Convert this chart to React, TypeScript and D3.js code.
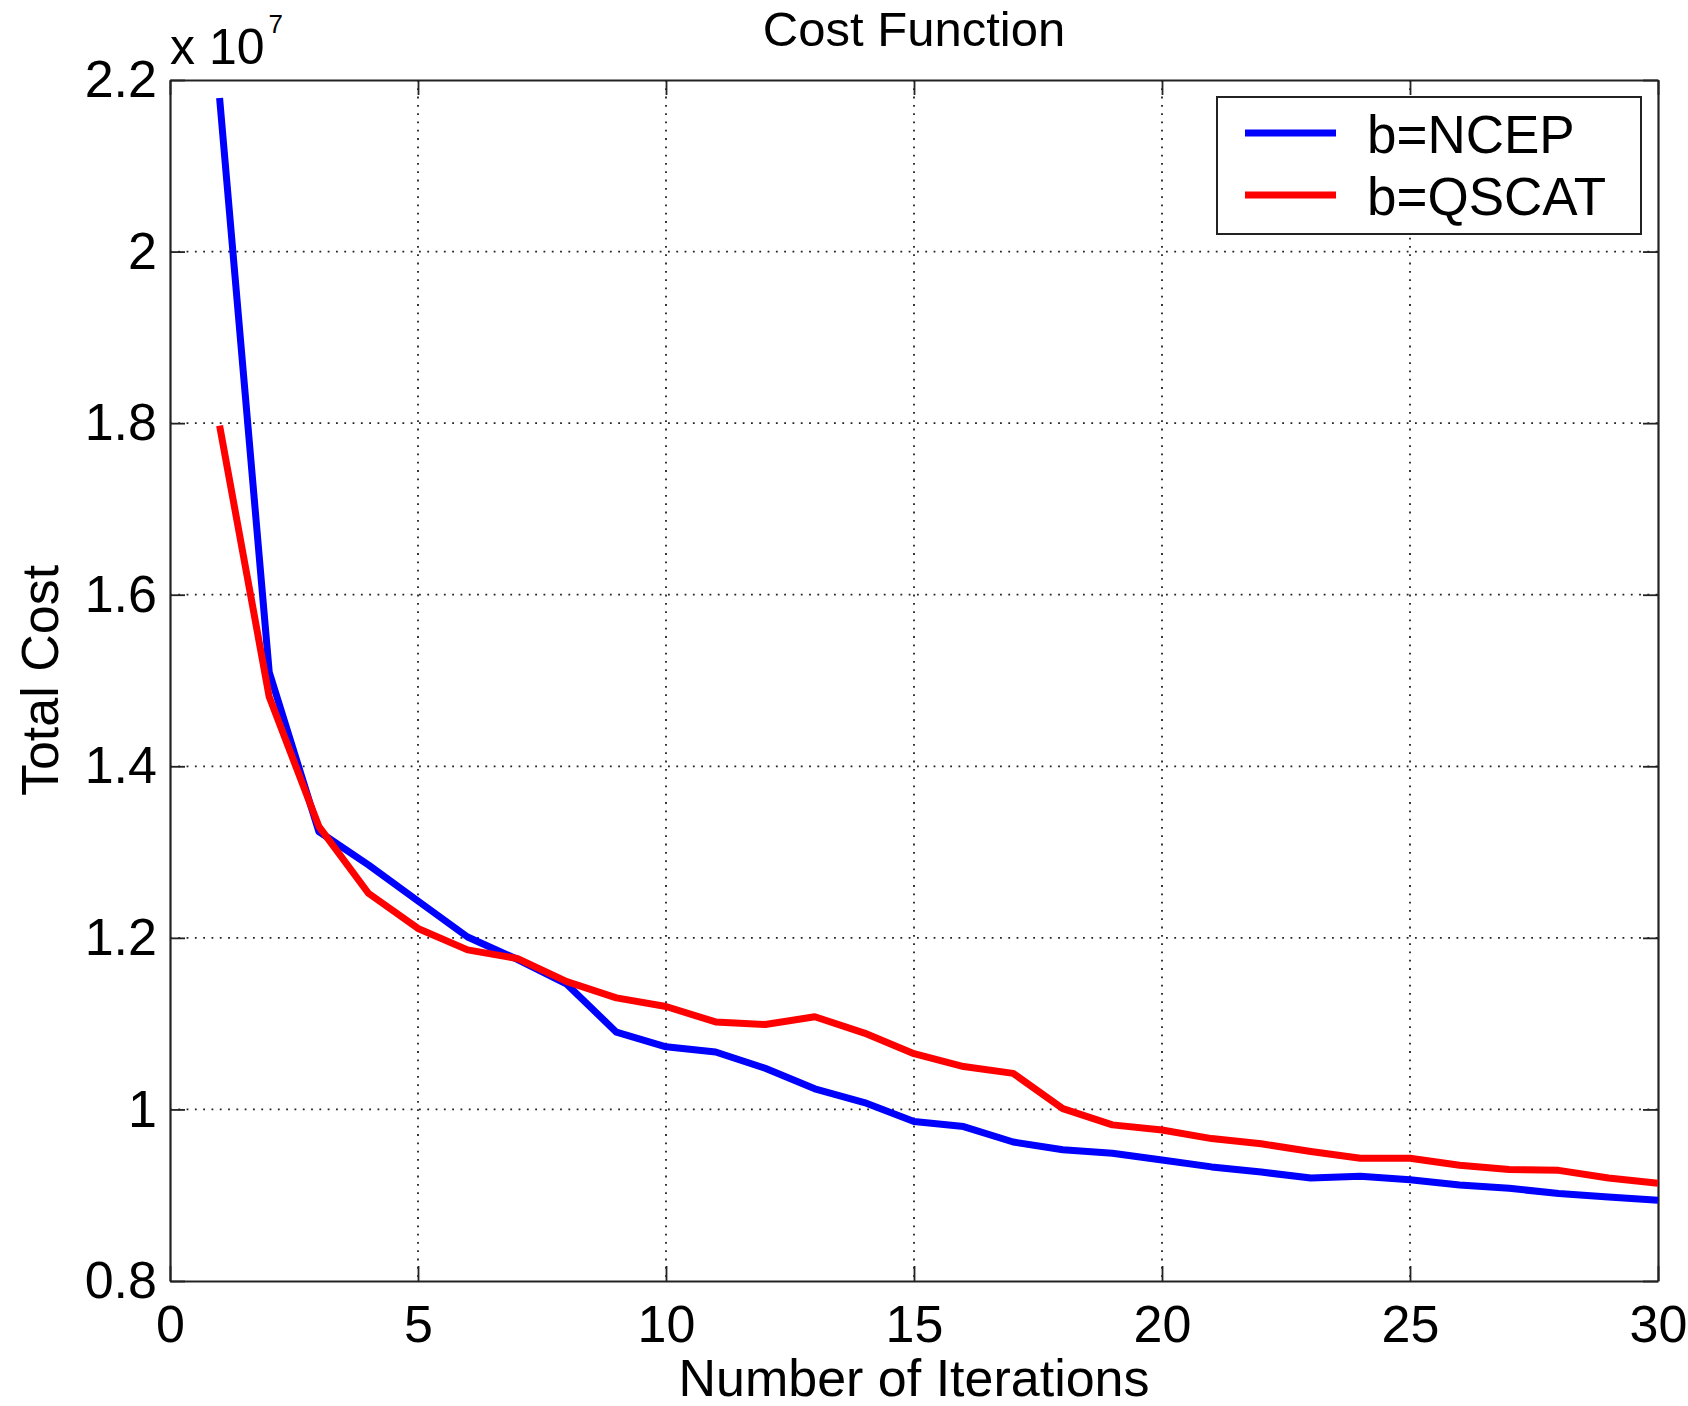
import * as d3 from "d3";
import React, { useEffect, useRef } from "react";

// iterations on the x axis
const iterations = [
  1, 2, 3, 4, 5, 6, 7, 8, 9, 10, 11, 12, 13, 14, 15, 16, 17, 18, 19, 20, 21,
  22, 23, 24, 25, 26, 27, 28, 29, 30,
];
// total cost, in units of 1e7
const ncep = [
  2.179, 1.51, 1.324, 1.285, 1.243, 1.201, 1.175, 1.146, 1.09, 1.073, 1.067,
  1.048, 1.024, 1.008, 0.986, 0.98, 0.962, 0.953, 0.949, 0.941, 0.933, 0.927,
  0.92, 0.922, 0.918, 0.912, 0.908, 0.902, 0.898, 0.894,
];
const qscat = [
  1.797, 1.481, 1.33, 1.252, 1.211, 1.186, 1.176, 1.149, 1.13, 1.12, 1.102,
  1.099, 1.108, 1.089, 1.065, 1.05, 1.042, 1.001, 0.982, 0.976, 0.966, 0.96,
  0.951, 0.943, 0.943, 0.935, 0.93, 0.929, 0.92, 0.914,
];
const seriesNames = ["b=NCEP", "b=QSCAT"];
const seriesColors = ["#0000ff", "#ff0000"];
const xTicks = [0, 5, 10, 15, 20, 25, 30];
const yTicks = [0.8, 1, 1.2, 1.4, 1.6, 1.8, 2, 2.2];

const FONT = "'Liberation Sans', Arial, Helvetica, sans-serif";

export default function App() {
  const ref = useRef<SVGSVGElement | null>(null);

  useEffect(() => {
    const W = 1688;
    const H = 1406;
    const margin = { top: 80, right: 30, bottom: 125, left: 170 };
    const width = W - margin.left - margin.right;
    const height = H - margin.top - margin.bottom;

    const svg = d3.select(ref.current).attr("width", W).attr("height", H);
    svg.selectAll("*").remove();
    svg.append("rect").attr("width", W).attr("height", H).attr("fill", "#fff");

    const main = svg
      .append("g")
      .attr("transform", `translate(${margin.left},${margin.top})`);

    const xScale = d3.scaleLinear().domain([0, 30]).range([0, width]);
    const yScale = d3.scaleLinear().domain([0.8, 2.2]).range([height, 0]);

    // dotted grid
    const grid = main.append("g").attr("class", "grid");
    grid
      .selectAll(".gx")
      .data(xTicks.slice(1, -1))
      .enter()
      .append("line")
      .attr("x1", (d) => xScale(d))
      .attr("x2", (d) => xScale(d))
      .attr("y1", 0)
      .attr("y2", height);
    grid
      .selectAll(".gy")
      .data(yTicks.slice(1, -1))
      .enter()
      .append("line")
      .attr("x1", 0)
      .attr("x2", width)
      .attr("y1", (d) => yScale(d))
      .attr("y2", (d) => yScale(d));
    grid
      .selectAll("line")
      .attr("stroke", "#222")
      .attr("stroke-width", 1.8)
      .attr("stroke-dasharray", "1.8,6.5");

    // axes, ticks pointing inward
    const xAxis = d3
      .axisBottom(xScale)
      .tickValues(xTicks)
      .tickSizeInner(-15)
      .tickSizeOuter(0)
      .tickPadding(24)
      .tickFormat(d3.format("d"));
    const yAxis = d3
      .axisLeft(yScale)
      .tickValues(yTicks)
      .tickSizeInner(-15)
      .tickSizeOuter(0)
      .tickPadding(13)
      .tickFormat((d: any) => String(+d.toFixed(1)));
    const xTop = d3
      .axisTop(xScale)
      .tickValues(xTicks)
      .tickSizeInner(-15)
      .tickSizeOuter(0)
      .tickFormat(() => "");
    const yRight = d3
      .axisRight(yScale)
      .tickValues(yTicks)
      .tickSizeInner(-15)
      .tickSizeOuter(0)
      .tickFormat(() => "");

    main.append("g").attr("class", "ax").attr("transform", `translate(0,${height})`).call(xAxis);
    main.append("g").attr("class", "ax").call(yAxis);
    main.append("g").attr("class", "ax").call(xTop);
    main.append("g").attr("class", "ax").attr("transform", `translate(${width},0)`).call(yRight);

    main.selectAll(".ax path").attr("stroke", "#222").attr("stroke-width", 2.2);
    main.selectAll(".ax line").attr("stroke", "#222").attr("stroke-width", 1.8);
    main
      .selectAll(".ax text")
      .attr("fill", "#000")
      .attr("font-family", FONT)
      .attr("font-size", 52);
    main.selectAll(".ax").attr("font-family", null).attr("font-size", null);

    // series
    const line: any = d3
      .line<number>()
      .x((d, i) => xScale(iterations[i]))
      .y((d) => yScale(d));

    [ncep, qscat].forEach((s, k) => {
      main
        .append("path")
        .datum(s)
        .attr("fill", "none")
        .attr("stroke", seriesColors[k])
        .attr("stroke-width", 7)
        .attr("stroke-linejoin", "round")
        .attr("stroke-linecap", "butt")
        .attr("d", line);
    });

    // legend
    const legend = svg.append("g").attr("transform", "translate(1217,97)");
    legend
      .append("rect")
      .attr("width", 424)
      .attr("height", 137)
      .attr("fill", "#fff")
      .attr("stroke", "#222")
      .attr("stroke-width", 2);
    seriesNames.forEach((name, k) => {
      const y = 36 + k * 62;
      legend
        .append("line")
        .attr("x1", 28)
        .attr("x2", 119)
        .attr("y1", y)
        .attr("y2", y)
        .attr("stroke", seriesColors[k])
        .attr("stroke-width", 7);
      legend
        .append("text")
        .attr("x", 150)
        .attr("y", y + 20)
        .attr("font-family", FONT)
        .attr("font-size", 53)
        .attr("fill", "#000")
        .text(name);
    });

    // title and labels
    svg
      .append("text")
      .attr("x", margin.left + width / 2)
      .attr("y", 46)
      .attr("text-anchor", "middle")
      .attr("font-family", FONT)
      .attr("font-size", 49)
      .text("Cost Function");
    svg
      .append("text")
      .attr("x", margin.left + width / 2)
      .attr("y", 1396)
      .attr("text-anchor", "middle")
      .attr("font-family", FONT)
      .attr("font-size", 52)
      .text("Number of Iterations");
    svg
      .append("text")
      .attr("transform", `translate(58,${margin.top + height / 2}) rotate(-90)`)
      .attr("text-anchor", "middle")
      .attr("font-family", FONT)
      .attr("font-size", 52)
      .text("Total Cost");

    const exp = svg
      .append("text")
      .attr("x", 170)
      .attr("y", 64)
      .attr("font-family", FONT)
      .attr("font-size", 50);
    exp.append("tspan").text("x 10");
    exp
      .append("tspan")
      .attr("dy", -31)
      .attr("dx", 4)
      .attr("font-size", 26)
      .text("7");
  }, []);

  return (
    <div style={{ position: "absolute", left: 0, top: 0 }}>
      <svg ref={ref} />
    </div>
  );
}
